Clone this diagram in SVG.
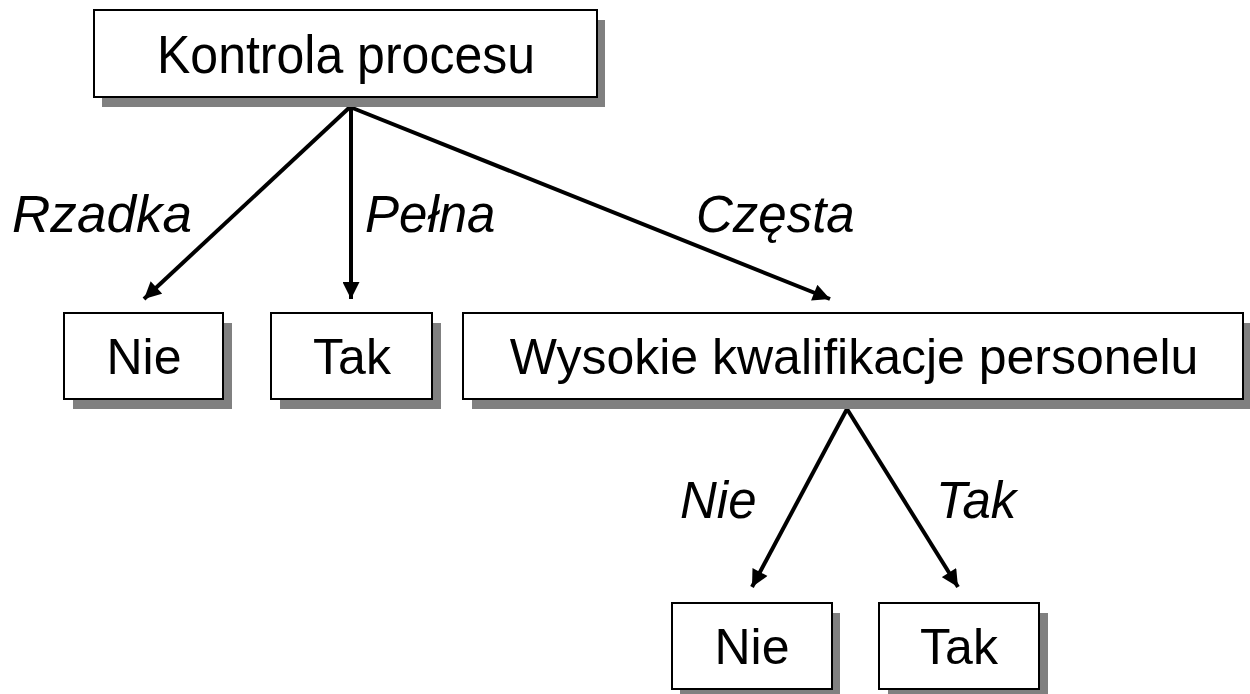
<svg xmlns="http://www.w3.org/2000/svg" width="1250" height="694" viewBox="0 0 1250 694">
<style>
.box{fill:#fff;stroke:#000;stroke-width:2}
.sh{fill:#808080}
.t{font-family:"Liberation Sans",Arial,sans-serif;font-size:50px;fill:#000;text-anchor:middle}
.l{font-family:"Liberation Sans",Arial,sans-serif;font-size:51px;font-style:italic;fill:#000}
.c{stroke:#000;stroke-width:4;fill:none;marker-end:url(#ah)}
</style>
<defs>
<marker id="ah" viewBox="0 0 10 10" refX="10" refY="5" markerUnits="userSpaceOnUse" markerWidth="18" markerHeight="17" orient="auto">
<path d="M0,0 L10,5 L0,10 Z" fill="#000"/>
</marker>
</defs>
<rect width="1250" height="694" fill="#fff"/>
<g id="connectors">
<line class="c" x1="350" y1="107" x2="144" y2="299"/>
<line class="c" x1="351" y1="107" x2="351" y2="299"/>
<line class="c" x1="350" y1="107" x2="830" y2="299"/>
<line class="c" x1="847" y1="409" x2="752" y2="587"/>
<line class="c" x1="847" y1="409" x2="958" y2="587"/>
</g>
<g id="root">
<rect class="sh" x="102" y="20" width="503" height="87"/>
<rect class="box" x="94" y="10" width="503" height="87"/>
<text class="t" x="346" y="73" style="font-size:53px" textLength="378" lengthAdjust="spacingAndGlyphs">Kontrola procesu</text>
</g>
<g id="nie1">
<rect class="sh" x="73" y="323" width="159" height="86"/>
<rect class="box" x="64" y="313" width="159" height="86"/>
<text class="t" x="144" y="374">Nie</text>
</g>
<g id="tak1">
<rect class="sh" x="280" y="323" width="161" height="86"/>
<rect class="box" x="271" y="313" width="161" height="86"/>
<text class="t" x="352" y="374">Tak</text>
</g>
<g id="wysokie">
<rect class="sh" x="472" y="323" width="780" height="86"/>
<rect class="box" x="463" y="313" width="780" height="86"/>
<text class="t" x="854" y="374">Wysokie kwalifikacje personelu</text>
</g>
<g id="nie2">
<rect class="sh" x="680" y="613" width="160" height="86"/>
<rect class="box" x="672" y="603" width="160" height="86"/>
<text class="t" x="752" y="664">Nie</text>
</g>
<g id="tak2">
<rect class="sh" x="888" y="613" width="160" height="86"/>
<rect class="box" x="879" y="603" width="160" height="86"/>
<text class="t" x="959" y="664">Tak</text>
</g>
<g id="labels">
<text class="l" x="12" y="232" textLength="180" lengthAdjust="spacingAndGlyphs">Rzadka</text>
<text class="l" x="365" y="232">Pełna</text>
<text class="l" x="696" y="232">Częsta</text>
<text class="l" x="680" y="518">Nie</text>
<text class="l" x="936" y="518">Tak</text>
</g>
</svg>
